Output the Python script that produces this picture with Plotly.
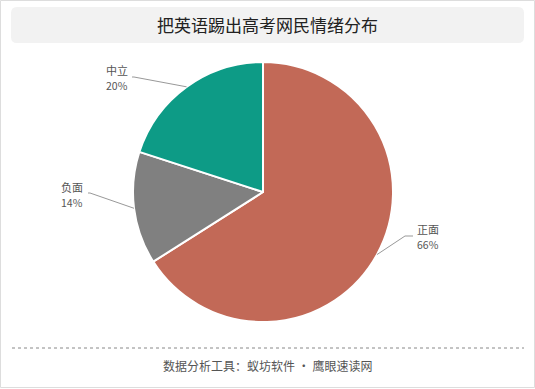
import math
import plotly.graph_objects as go

# ---- data ----
categories = ["正面", "负面", "中立"]
values = [66, 14, 20]
colors = ["#c26957", "#808080", "#0d9b86"]
title_text = "把英语踢出高考网民情绪分布"
footer_text = "数据分析工具：蚁坊软件 · 鹰眼速读网"

W, H = 535, 389
FONT = "Noto Sans CJK SC"

def px(x):
    return x / W

def py(y):
    return 1 - y / H

# pie geometry (pixels)
cx, cy, r = 263, 192, 130

fig = go.Figure(go.Pie(
    labels=categories,
    values=values,
    sort=False,
    direction="clockwise",
    rotation=0,
    marker=dict(colors=colors, line=dict(color="white", width=2)),
    textinfo="none",
    hoverinfo="label+percent",
    showlegend=False,
    domain=dict(x=[px(cx - r), px(cx + r)], y=[py(cy + r), py(cy - r)]),
))

# label layout: (elbow point, end point, label centre) in pixels, per category
label_layout = {
    "正面": ((405, 236), (413, 236), (428, 236)),
    "负面": ((90, 193), (88, 193), (72, 194)),
    "中立": ((134, 77), (132, 77), (117, 78)),
}

shapes = []
annotations = []
total = sum(values)
cum = 0
for cat, v in zip(categories, values):
    mid = (cum + v / 2) / total * 2 * math.pi
    cum += v
    sx = cx + r * math.sin(mid)
    sy = cy - r * math.cos(mid)
    (ex, ey), (hx, hy), (lx, ly) = label_layout[cat]
    shapes.append(dict(type="path", xref="paper", yref="paper",
                       path=f"M {px(sx)} {py(sy)} L {px(ex)} {py(ey)} L {px(hx)} {py(hy)}",
                       line=dict(color="#999999", width=1)))
    pct = round(v / total * 100)
    annotations.append(dict(x=px(lx), y=py(ly - 7.5), xref="paper", yref="paper",
                            text=cat, showarrow=False,
                            font=dict(family=FONT, size=11, color="#555555"),
                            xanchor="center", yanchor="middle"))
    annotations.append(dict(x=px(lx), y=py(ly + 8), xref="paper", yref="paper",
                            text=f"{pct}%", showarrow=False,
                            font=dict(family=FONT, size=10.5, color="#555555"),
                            xanchor="center", yanchor="middle"))

# title box (rounded)
x0, x1, y0, y1, rr = 11, 524, 7, 43, 6
path = (f"M {px(x0+rr)} {py(y0)} L {px(x1-rr)} {py(y0)} "
        f"Q {px(x1)} {py(y0)} {px(x1)} {py(y0+rr)} L {px(x1)} {py(y1-rr)} "
        f"Q {px(x1)} {py(y1)} {px(x1-rr)} {py(y1)} L {px(x0+rr)} {py(y1)} "
        f"Q {px(x0)} {py(y1)} {px(x0)} {py(y1-rr)} L {px(x0)} {py(y0+rr)} "
        f"Q {px(x0)} {py(y0)} {px(x0+rr)} {py(y0)} Z")
shapes.insert(0, dict(type="path", xref="paper", yref="paper", path=path,
                      fillcolor="#f2f2f2", line=dict(width=0), layer="below"))
annotations.append(dict(x=px(267), y=py(25), xref="paper", yref="paper",
                        text=title_text, showarrow=False,
                        font=dict(family=FONT, size=17, color="#222222"),
                        xanchor="center", yanchor="middle"))

# footer
shapes.append(dict(type="line", xref="paper", yref="paper",
                   x0=px(12), x1=px(524), y0=py(348), y1=py(348),
                   line=dict(color="#888888", width=1, dash="dot")))
annotations.append(dict(x=px(267), y=py(365), xref="paper", yref="paper",
                        text=footer_text, showarrow=False,
                        font=dict(family=FONT, size=12, color="#555555"),
                        xanchor="center", yanchor="middle"))

# outer border
shapes.append(dict(type="rect", xref="paper", yref="paper",
                   x0=px(0.5), x1=px(534.5), y0=py(0.5), y1=py(387.5),
                   line=dict(color="#dddddd", width=1)))

fig.update_layout(
    width=W, height=H,
    margin=dict(l=0, r=0, t=0, b=0),
    paper_bgcolor="white",
    plot_bgcolor="white",
    shapes=shapes,
    annotations=annotations,
    font=dict(family=FONT),
)

fig.write_html("out.html",
               config={"displayModeBar": False},
               post_script="document.body.style.margin='0';document.body.style.overflow='hidden';")
